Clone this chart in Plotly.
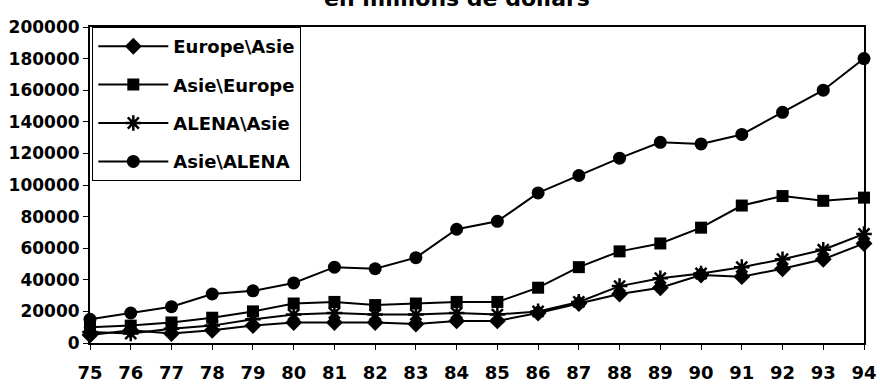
import plotly.graph_objects as go

# Years (19xx) on the horizontal axis
years = list(range(75, 95))
x_labels = [str(y) for y in years]

# Trade flows, in millions of dollars
europe_asie = [5000, 8000, 6000, 8000, 11000, 13000, 13000, 13000, 12000, 14000,
               14000, 19000, 25000, 31000, 35000, 43000, 42000, 47000, 53000, 63000]
asie_europe = [10000, 11000, 13000, 16000, 20000, 25000, 26000, 24000, 25000, 26000,
               26000, 35000, 48000, 58000, 63000, 73000, 87000, 93000, 90000, 92000]
alena_asie = [7000, 6000, 9000, 11000, 15000, 18000, 19000, 18000, 18000, 19000,
              18000, 20000, 26000, 36000, 41000, 44000, 48000, 53000, 59000, 69000]
asie_alena = [15000, 19000, 23000, 31000, 33000, 38000, 48000, 47000, 54000, 72000,
              77000, 95000, 106000, 117000, 127000, 126000, 132000, 146000, 160000, 180000]

y_ticks = list(range(0, 200001, 20000))

FONT = "DejaVu Sans"
INK = "black"

series = [
    ("Europe\\Asie", europe_asie, "diamond", 13),
    ("Asie\\Europe", asie_europe, "square", 12),
    ("ALENA\\Asie", alena_asie, "asterisk-open", 13),
    ("Asie\\ALENA", asie_alena, "circle", 13),
]

fig = go.Figure()
for i, (name, values, symbol, size) in enumerate(series):
    fig.add_trace(go.Scatter(
        x=years, y=values, name=name, mode="lines+markers",
        legendgroup=f"g{i}",
        line=dict(color=INK, width=2),
        marker=dict(symbol=symbol, size=size, color=INK,
                    line=dict(color=INK, width=2.5 if symbol.startswith("asterisk") else 0)),
        cliponaxis=False,
    ))

fig.add_annotation(
    text="<b>en millions de dollars</b>", xref="paper", yref="paper",
    x=0.474, y=1.09, xanchor="center", yanchor="middle", showarrow=False,
    font=dict(family=FONT, size=22, color=INK),
)

fig.update_layout(
    width=880, height=386,
    margin=dict(l=90, r=16, t=27, b=43),
    paper_bgcolor="white", plot_bgcolor="white",
    font=dict(family=FONT, size=18, color=INK, weight="bold"),
    showlegend=True,
    legend=dict(
        x=0.003, y=1, xanchor="left", yanchor="top",
        bgcolor="white", bordercolor=INK, borderwidth=1,
        font=dict(family=FONT, size=18, color=INK, weight="bold"),
        tracegroupgap=12,
        traceorder="grouped",
        itemwidth=70,
    ),
)

fig.update_xaxes(
    range=[75, 94], tickmode="array", tickvals=years, ticktext=x_labels,
    showgrid=False, zeroline=False, automargin=False,
    showline=True, linecolor=INK, linewidth=2, mirror=True,
    ticks="outside", ticklen=5, tickwidth=1, tickcolor=INK,
    ticklabelstandoff=7,
    tickfont=dict(family=FONT, size=18, color=INK, weight="bold"),
)
fig.update_yaxes(
    range=[0, 200000], tickmode="array", tickvals=y_ticks,
    ticktext=[str(v) for v in y_ticks],
    showgrid=False, zeroline=False, automargin=False,
    showline=True, linecolor=INK, linewidth=2, mirror=True,
    ticks="outside", ticklen=5, tickwidth=1, tickcolor=INK,
    tickfont=dict(family=FONT, size=17, color=INK, weight="bold"),
)

fig.write_html("out.html")
